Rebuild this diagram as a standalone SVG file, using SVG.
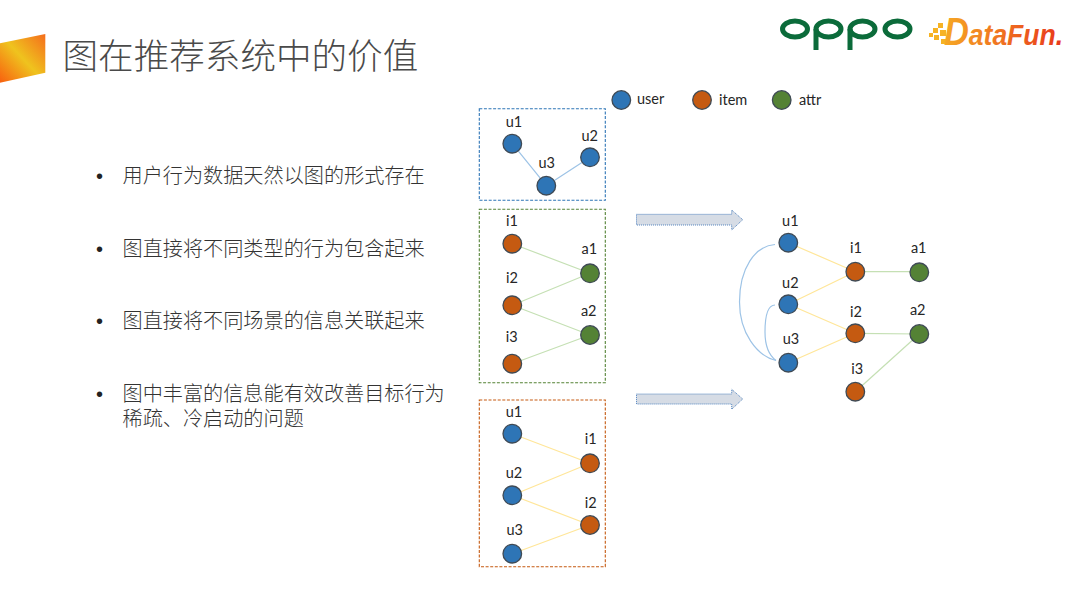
<svg xmlns="http://www.w3.org/2000/svg" width="1080" height="607" viewBox="0 0 1080 607">
<style>
.t{font-family:"Noto Sans CJK SC","Noto Sans",sans-serif;fill:#404040}
.title{font-size:35.6px;font-weight:300;fill:#4a4a4a}
.body{font-size:20.15px;font-weight:300;fill:#333}
.dot{font-family:"Liberation Sans",sans-serif;font-size:20px;fill:#222}
.l{font-family:Lato,"Liberation Sans",sans-serif;font-size:14.5px;fill:#262626;text-anchor:middle}
.lg{font-family:Lato,"Liberation Sans",sans-serif;font-size:14.5px;fill:#262626}
.u{fill:#2e75b6}.i{fill:#c55a11}.a{fill:#548235}
.u,.i,.a{stroke:#3f4a55;stroke-width:1.3}
.box{fill:none;stroke-width:1.1;stroke-dasharray:3 1.6}
.eb{stroke:#9dc3e6;stroke-width:1.2;fill:none}
.eg{stroke:#c5e0b4;stroke-width:1.2;fill:none}
.ey{stroke:#ffe699;stroke-width:1.2;fill:none}
.arrow{fill:#d6dce5;stroke:#4f81bd;stroke-width:1;stroke-dasharray:1 1}
</style>
<defs>
<linearGradient id="ban" x1="0" y1="1" x2="1" y2="0"><stop offset="0" stop-color="#f8600f"/><stop offset="0.5" stop-color="#efc31e"/><stop offset="1" stop-color="#f56d1c"/></linearGradient>
<linearGradient id="df" x1="0" y1="0" x2="1" y2="0"><stop offset="0" stop-color="#f6a824"/><stop offset="1" stop-color="#e8371c"/></linearGradient>
</defs>
<rect width="1080" height="607" fill="#fff"/>
<g id="banner"><polygon points="0,43.3 45.3,34 45.3,72.7 0,82.7" fill="url(#ban)"/></g>
<text class="t title" x="62.500" y="69">图在推荐系统中的价值</text>
<g id="logo-oppo" fill="none" stroke="#0b6b3a" stroke-width="5">
<ellipse cx="795" cy="29" rx="12.500" ry="8"/>
<ellipse cx="828.500" cy="29" rx="12.500" ry="8"/>
<ellipse cx="862.500" cy="29" rx="12.500" ry="8"/>
<ellipse cx="897.500" cy="29" rx="12.500" ry="8"/>
<path d="M816 29V50M850 29V50"/>
</g>
<g id="logo-datafun">
<g fill="#f6b324"><rect x="938" y="23" width="5" height="5"/><rect x="933" y="28" width="5" height="5"/><rect x="929" y="33" width="4" height="4"/><rect x="940" y="30" width="6" height="6"/><rect x="934" y="35" width="5" height="5"/><rect x="941" y="39" width="5" height="5"/></g>
<text x="944" y="45" font-family="'Liberation Sans',sans-serif" font-weight="700" font-style="italic" font-size="30" fill="url(#df)" textLength="119" lengthAdjust="spacingAndGlyphs"><tspan font-size="39">D</tspan>ataFun.</text>
</g>
<g id="bullets">
<text class="dot" x="96" y="183">•</text><text class="t body" x="122.500" y="183">用户行为数据天然以图的形式存在</text>
<text class="dot" x="96" y="256">•</text><text class="t body" x="122.500" y="256">图直接将不同类型的行为包含起来</text>
<text class="dot" x="96" y="328">•</text><text class="t body" x="122.500" y="328">图直接将不同场景的信息关联起来</text>
<text class="dot" x="96" y="401">•</text><text class="t body" y="401"><tspan x="122.500">图中丰富的信息能有效改善目标行为</tspan><tspan x="122.500" dy="25">稀疏、冷启动的问题</tspan></text>
</g>
<g id="frames">
<rect class="box" x="479.3" y="108.7" width="126" height="91.6" stroke="#2e75b6"/>
<rect class="box" x="479.3" y="209.3" width="126" height="173.4" stroke="#548235"/>
<rect class="box" x="479.3" y="400" width="126" height="166.7" stroke="#c55a11"/>
</g>
<g id="arrows">
<polygon class="arrow" points="636.500,214.3 731.7,214.3 731.7,210 742.7,219.7 731.7,230 731.7,225 636.500,225"/>
<polygon class="arrow" points="636.500,394 731.7,394 731.7,389.3 742.7,399 731.7,409.3 731.7,404 636.500,404"/>
</g>
<g id="connectors">
<path class="eb" d="M512.3 143.7L546.3 185.7M590 157.3L546.3 185.7"/>
<path class="eg" d="M512.3 243.7L590 273.3M512.3 305.3L590 273.3M512.3 305.3L590 335M512.3 363.7L590 335"/>
<path class="ey" d="M512.3 433.7L590 463.3M512.3 495.3L590 463.3M512.3 495.3L590 525M512.3 553.7L590 525"/>
<path class="ey" d="M788.3 242.7L855.3 271.7M788.3 304.3L855.3 271.7M788.3 304.3L855.3 333.3M788.3 362.7L855.3 333.3"/>
<path class="eg" d="M855.3 271.7H919.3M855.3 333.3L919.3 334M855.3 391.7L919.3 334"/>
<path class="eb" d="M775 244.500C755 246 739.500 268 739.500 302C739.500 333 757 356 776 360.500"/>
<path class="eb" d="M775 305C768 305 765 315 765 332C765 347 770 356 776 360.500"/>
</g>
<g id="legend">
<g id="legend-user"><circle class="u" cx="621.3" cy="100" r="9.3"/><text class="lg" x="637" y="104">user</text></g>
<g id="legend-item"><circle class="i" cx="702" cy="100" r="9.3"/><text class="lg" x="719" y="105">item</text></g>
<g id="legend-attr"><circle class="a" cx="781.7" cy="100" r="9.3"/><text class="lg" x="799" y="105">attr</text></g>
</g>
<g id="top-u1"><circle class="u" cx="512.3" cy="143.7" r="9.3"/><text class="l" x="514" y="127">u1</text></g>
<g id="top-u2"><circle class="u" cx="590" cy="157.3" r="9.3"/><text class="l" x="589.700" y="141">u2</text></g>
<g id="top-u3"><circle class="u" cx="546.3" cy="185.7" r="9.3"/><text class="l" x="546.700" y="168">u3</text></g>
<g id="mid-i1"><circle class="i" cx="512.3" cy="243.7" r="9.3"/><text class="l" x="512" y="225.500">i1</text></g>
<g id="mid-i2"><circle class="i" cx="512.3" cy="305.3" r="9.3"/><text class="l" x="512" y="283">i2</text></g>
<g id="mid-i3"><circle class="i" cx="512.3" cy="363.7" r="9.3"/><text class="l" x="511.700" y="342">i3</text></g>
<g id="mid-a1"><circle class="a" cx="590" cy="273.3" r="9.3"/><text class="l" x="589.300" y="254">a1</text></g>
<g id="mid-a2"><circle class="a" cx="590" cy="335" r="9.3"/><text class="l" x="588.700" y="316">a2</text></g>
<g id="bot-u1"><circle class="u" cx="512.3" cy="433.7" r="9.3"/><text class="l" x="514" y="417">u1</text></g>
<g id="bot-u2"><circle class="u" cx="512.3" cy="495.3" r="9.3"/><text class="l" x="514" y="478">u2</text></g>
<g id="bot-u3"><circle class="u" cx="512.3" cy="553.7" r="9.3"/><text class="l" x="514.700" y="535">u3</text></g>
<g id="bot-i1"><circle class="i" cx="590" cy="463.3" r="9.3"/><text class="l" x="590.700" y="444">i1</text></g>
<g id="bot-i2"><circle class="i" cx="590" cy="525" r="9.3"/><text class="l" x="590.700" y="508">i2</text></g>
<g id="r-u1"><circle class="u" cx="788.3" cy="242.7" r="9.3"/><text class="l" x="790.300" y="226">u1</text></g>
<g id="r-u2"><circle class="u" cx="788.3" cy="304.3" r="9.3"/><text class="l" x="790.300" y="288">u2</text></g>
<g id="r-u3"><circle class="u" cx="788.3" cy="362.7" r="9.3"/><text class="l" x="791" y="344">u3</text></g>
<g id="r-i1"><circle class="i" cx="855.3" cy="271.7" r="9.3"/><text class="l" x="856" y="253">i1</text></g>
<g id="r-i2"><circle class="i" cx="855.3" cy="333.3" r="9.3"/><text class="l" x="856" y="317">i2</text></g>
<g id="r-i3"><circle class="i" cx="855.3" cy="391.7" r="9.3"/><text class="l" x="857.300" y="374">i3</text></g>
<g id="r-a1"><circle class="a" cx="919.3" cy="272.3" r="9.3"/><text class="l" x="918.700" y="253">a1</text></g>
<g id="r-a2"><circle class="a" cx="919.3" cy="334" r="9.3"/><text class="l" x="917.700" y="315">a2</text></g>
</svg>
